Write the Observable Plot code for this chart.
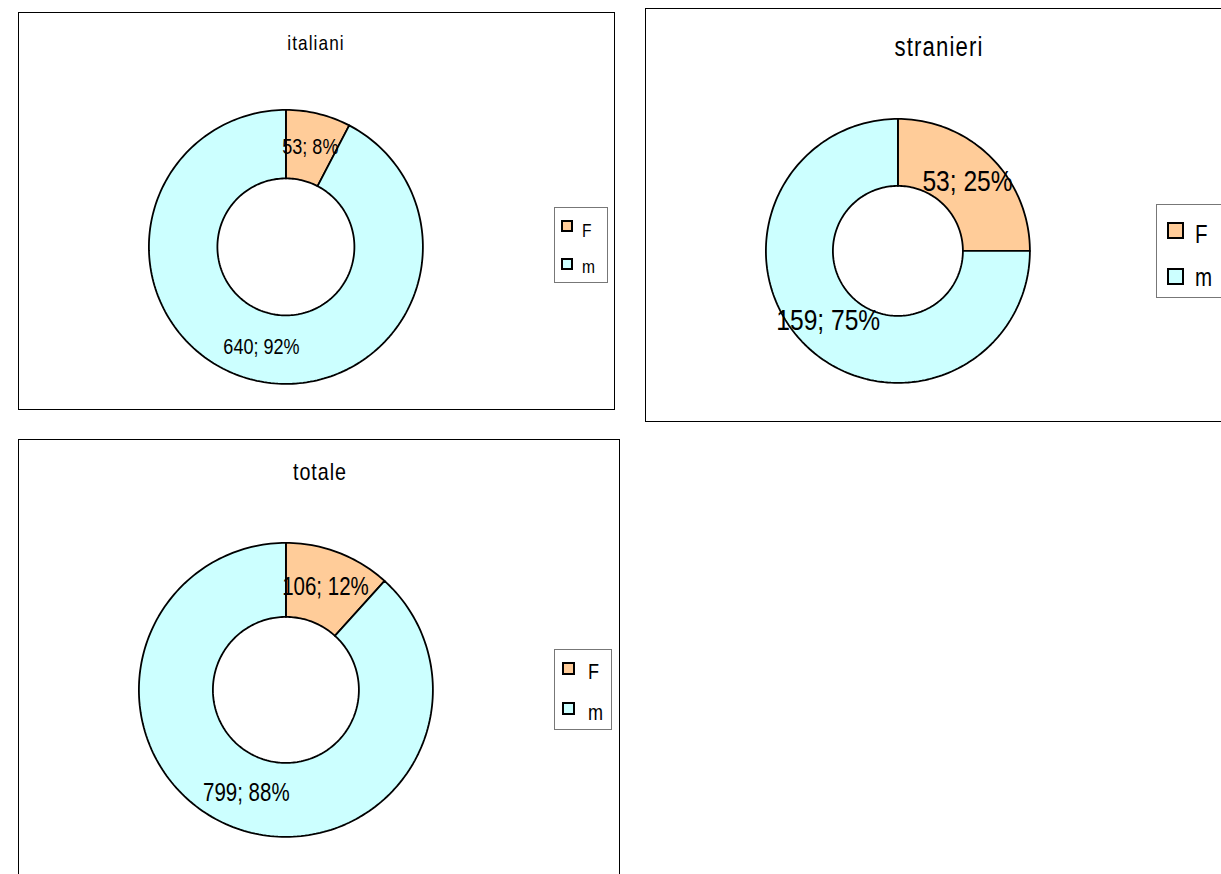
<!DOCTYPE html>
<html><head><meta charset="utf-8">
<script src="https://cdn.jsdelivr.net/npm/d3@7"></script>
<script src="https://cdn.jsdelivr.net/npm/@observablehq/plot@0.6"></script>
<style>
body{margin:0;background:#fff;}
#root{position:relative;width:1221px;height:874px;overflow:hidden;background:#fff;font-family:"Liberation Sans",Arial,sans-serif;color:#000;}
.panel{position:absolute;box-sizing:border-box;border:1px solid #000;background:#fff;}
.title{position:absolute;white-space:nowrap;text-align:center;line-height:1;transform:scaleX(0.82);transform-origin:50% 50%;}
.legend{position:absolute;box-sizing:border-box;border:1px solid #777;background:#fff;}
.sw{position:absolute;box-sizing:border-box;border:2px solid #000;}
.lt{position:absolute;line-height:1;white-space:nowrap;transform:scaleX(0.82);transform-origin:0 50%;}
.donut{position:absolute;}
</style></head><body><div id="root"></div>
<script>
// ---- data ----
const groups = ["italiani", "stranieri", "totale"];
const categories = ["F", "m"];
const italiani = [53, 640];
const stranieri = [53, 159];
const totale = [106, 799];
const colors = ["#FFCC99", "#CCFFFF"];
const seriesList = [italiani, stranieri, totale];

// ---- layout (positions / sizes) ----
const layout = [
  {box:[18,12,597,398], cx:285, cy:246, R:137, r:68.5, label:22, title:21, ls:1.3, tx:316, tb:50,
   lg:{x:554,y:207,w:54,h:76,fs:19,sw:12,swx:6,tx:27,rows:[12,50],tbs:[29,65]}},
  {box:[645,8,600,414], cx:897.5, cy:250.5, R:132, r:65, label:30, title:27, ls:1.4, tx:939, tb:57,
   lg:{x:1156,y:204,w:90,h:94,fs:25,sw:17,swx:10,tx:38,rows:[17,63],tbs:[38,81]}},
  {box:[18,439,602,500], cx:285.5, cy:689.5, R:147, r:73, label:25, title:24, ls:1.2, tx:320, tb:480,
   lg:{x:554,y:649,w:58,h:81,fs:22,sw:13,swx:7,tx:33,rows:[12,52],tbs:[30,71]}}
];

const root = document.getElementById("root");
const FONT = '"Liberation Sans",Arial,sans-serif';
const NARROW = 0.82;

groups.forEach((g, gi) => {
  const L = layout[gi];
  const values = seriesList[gi];
  const panel = document.createElement("div");
  panel.className = "panel";
  Object.assign(panel.style, {left:L.box[0]+"px", top:L.box[1]+"px", width:L.box[2]+"px", height:L.box[3]+"px"});
  root.appendChild(panel);

  // title
  const t = document.createElement("div");
  t.className = "title";
  t.textContent = g;
  Object.assign(t.style, {fontSize:L.title+"px", letterSpacing:L.ls+"px", left:(L.tx-200)+"px", width:"400px", top:(L.tb - 0.846*L.title)+"px"});
  root.appendChild(t);

  // slices
  const total = d3.sum(values);
  const rr = L.r / L.R;
  let acc = 0;
  const pts = [], labs = [];
  values.forEach((v, i) => {
    const a0 = acc / total * 2 * Math.PI; acc += v;
    const a1 = acc / total * 2 * Math.PI;
    const N = Math.max(8, Math.ceil((a1 - a0) / (2*Math.PI) * 240));
    const ring = [];
    for (let k = 0; k <= N; k++) { const a = a0 + (a1 - a0) * k / N; ring.push({cat:categories[i], x:Math.sin(a), y:Math.cos(a)}); }
    for (let k = N; k >= 0; k--) { const a = a0 + (a1 - a0) * k / N; ring.push({cat:categories[i], x:rr*Math.sin(a), y:rr*Math.cos(a)}); }
    ring.push({...ring[0]});
    pts.push(...ring);
    const am = (a0 + a1) / 2, rad = (1 + rr) / 2;
    labs.push({cat:categories[i], x:rad*Math.sin(am), y:rad*Math.cos(am), label: v + "; " + Math.round(v / total * 100) + "%"});
  });

  const ext = 1.2;
  const S = 2 * ext * L.R;
  const chart = Plot.plot({
    width: S, height: S, margin: 0,
    x: {domain:[-ext, ext], axis:null},
    y: {domain:[-ext, ext], axis:null},
    color: {domain: categories, range: colors},
    style: {fontFamily: FONT, overflow: "visible", background: "transparent", maxWidth: "none"},
    marks: [
      Plot.line(pts, {x:"x", y:"y", z:"cat", fill:"cat", stroke:"#000", strokeWidth:1.8, strokeLinejoin:"round"}),
      Plot.text(labs, {x:"x", y:"y", text:"label", fontSize:L.label, fill:"#000", textAnchor:"middle"})
    ]
  });
  // narrow the label glyphs (Arial Narrow look)
  chart.querySelectorAll("text").forEach(el => {
    const tr = el.getAttribute("transform");
    if (tr) el.setAttribute("transform", tr + ` scale(${NARROW},1)`);
    else {
      const x = +el.getAttribute("x") || 0, y = +el.getAttribute("y") || 0;
      el.setAttribute("transform", `translate(${x},${y}) scale(${NARROW},1)`);
      el.removeAttribute("x"); el.removeAttribute("y");
    }
  });
  chart.classList.add("donut");
  Object.assign(chart.style, {left:(L.cx - ext*L.R)+"px", top:(L.cy - ext*L.R)+"px"});
  root.appendChild(chart);

  // legend
  const lg = L.lg;
  const box = document.createElement("div");
  box.className = "legend";
  Object.assign(box.style, {left:lg.x+"px", top:lg.y+"px", width:lg.w+"px", height:lg.h+"px"});
  categories.forEach((c, i) => {
    const s = document.createElement("div");
    s.className = "sw";
    Object.assign(s.style, {left:lg.swx+"px", top:lg.rows[i]+"px", width:lg.sw+"px", height:lg.sw+"px", background:colors[i]});
    box.appendChild(s);
    const tx = document.createElement("div");
    tx.className = "lt";
    tx.textContent = c;
    Object.assign(tx.style, {left:lg.tx+"px", top:(lg.tbs[i] - 0.846*lg.fs)+"px", fontSize:lg.fs+"px"});
    box.appendChild(tx);
  });
  root.appendChild(box);
});
</script>
</body></html>
